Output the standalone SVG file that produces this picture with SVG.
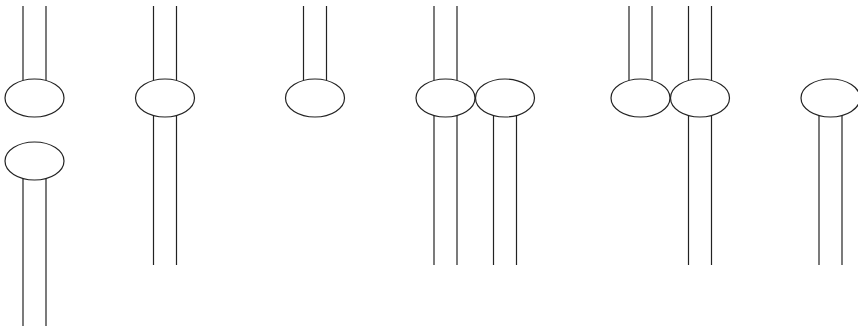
<svg xmlns="http://www.w3.org/2000/svg" width="858" height="327" viewBox="0 0 858 327">
<style>
.e{fill:#fff;stroke:#222;stroke-width:1.2}
.w line{stroke:#222;stroke-width:1.2}
</style>
<rect width="858" height="327" fill="#fff"/>
<g id="connectors" class="w">
<line x1="23" y1="6" x2="23" y2="81"/><line x1="46" y1="6" x2="46" y2="81"/>
<line x1="23" y1="178" x2="23" y2="326"/><line x1="46" y1="178" x2="46" y2="326"/>
<line x1="153.5" y1="6" x2="153.5" y2="265"/><line x1="176.5" y1="6" x2="176.5" y2="265"/>
<line x1="303.5" y1="6" x2="303.5" y2="81"/><line x1="326.5" y1="6" x2="326.5" y2="81"/>
<line x1="434" y1="6" x2="434" y2="265"/><line x1="457" y1="6" x2="457" y2="265"/>
<line x1="493.5" y1="100" x2="493.5" y2="265"/><line x1="516.5" y1="100" x2="516.5" y2="265"/>
<line x1="629" y1="6" x2="629" y2="81"/><line x1="652" y1="6" x2="652" y2="81"/>
<line x1="688.5" y1="6" x2="688.5" y2="265"/><line x1="711.5" y1="6" x2="711.5" y2="265"/>
<line x1="819" y1="100" x2="819" y2="265"/><line x1="842" y1="100" x2="842" y2="265"/>
</g>
<g id="n1"><ellipse class="e" cx="34.5" cy="98" rx="29.5" ry="19"/></g>
<g id="n2"><ellipse class="e" cx="34.5" cy="161" rx="29.5" ry="19"/></g>
<g id="n3"><ellipse class="e" cx="165" cy="98" rx="29.5" ry="19"/></g>
<g id="n4"><ellipse class="e" cx="315" cy="98" rx="29.5" ry="19"/></g>
<g id="n5"><ellipse class="e" cx="445.5" cy="98" rx="29.5" ry="19"/></g>
<g id="n6"><ellipse class="e" cx="505" cy="98" rx="29.5" ry="19"/></g>
<g id="n7"><ellipse class="e" cx="640.5" cy="98" rx="29.5" ry="19"/></g>
<g id="n8"><ellipse class="e" cx="700" cy="98" rx="29.5" ry="19"/></g>
<g id="n9"><ellipse class="e" cx="830.5" cy="98" rx="29.5" ry="19"/></g>
</svg>
